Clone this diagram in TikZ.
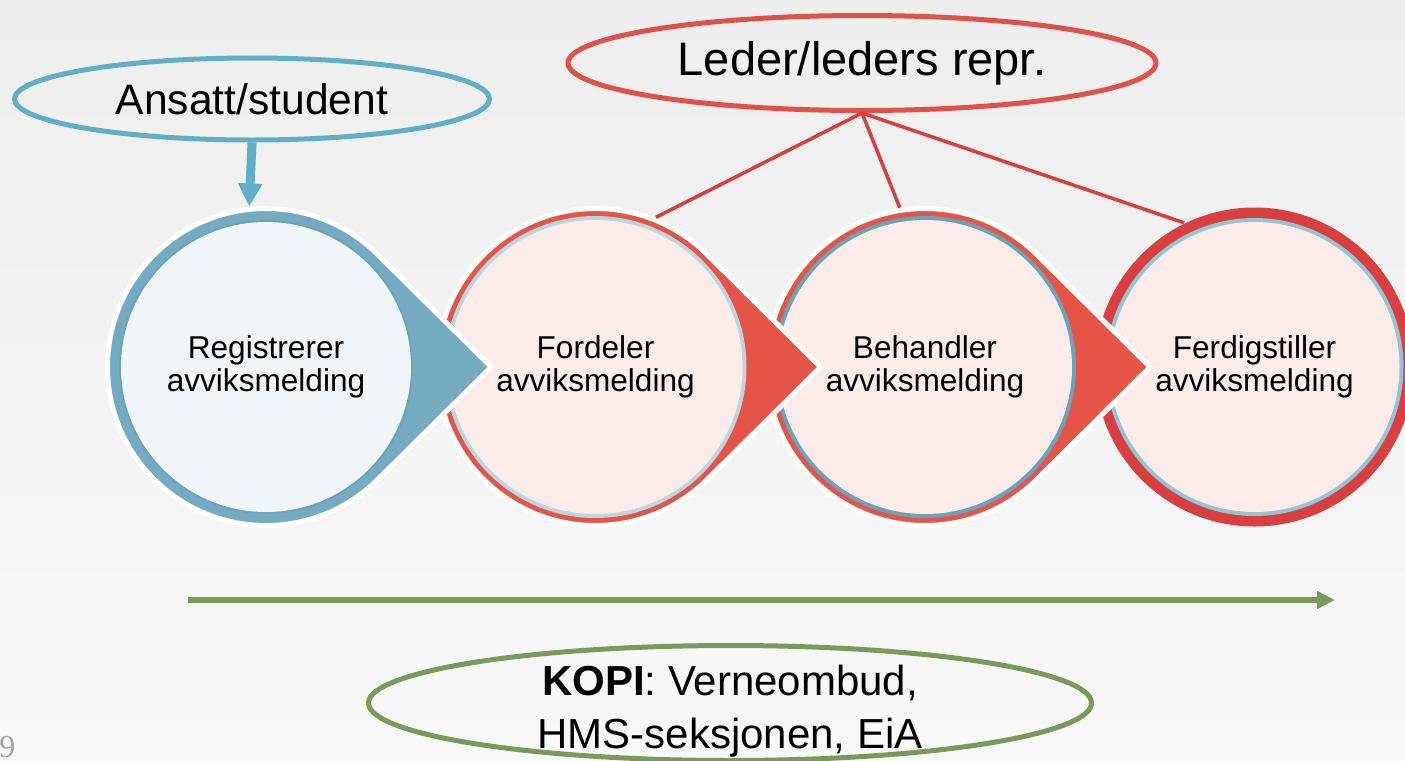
\documentclass[tikz,border=0pt]{standalone}
\usepackage{fontspec}
\setmainfont{Liberation Sans}
\newfontfamily\pagefont{Liberation Serif}
\usetikzlibrary{positioning}
\usetikzlibrary{shapes.geometric}
\usetikzlibrary{backgrounds}
\usetikzlibrary{arrows.meta}
\definecolor{actorblue}{RGB}{96,174,200}
\definecolor{leadred}{RGB}{226,80,74}
\definecolor{linkred}{RGB}{218,62,60}
\definecolor{dropblue}{RGB}{116,171,193}
\definecolor{dropred}{RGB}{229,84,70}
\definecolor{endred}{RGB}{217,63,64}
\definecolor{paleblue}{RGB}{239,245,248}
\definecolor{palered}{RGB}{251,236,234}
\definecolor{ringblue}{RGB}{106,164,188}
\definecolor{ringlight}{RGB}{188,213,222}
\definecolor{ringsky}{RGB}{146,198,212}
\definecolor{flowgreen}{RGB}{122,154,90}
\definecolor{pagegray}{RGB}{166,166,166}
\newcommand \teardrop [2] {(#1.center) ++(45:#2) arc [start angle=45, end angle=315, radius=#2] -- ([xshift=1.42*#2]#1.center) -- cycle}
\tikzset{
	stage/.style={
		circle,
		minimum size=#1,
		inner sep=0pt,
		align=center,
		font=\fontsize{15.8}{16.5}\selectfont
	},
	stage/.default=161pt,
	actor/.style={
		ellipse,
		draw=#1,
		line width=2.5pt,
		inner xsep=0pt,
		inner ysep=0pt,
		align=center
	},
	drop/.style={
		fill=#1,
		draw=white,
		line width=2.5pt,
		line join=miter
	},
	tobox/.style={draw=actorblue, line width=4.5pt, -{Triangle[length=11.5pt,width=11.5pt]}},
	link/.style={draw=linkred, line width=1.75pt},
	flow/.style={draw=flowgreen, line width=3pt, -{Triangle[length=9pt,width=8.5pt]}},
	pagenum/.style={anchor=base west, inner sep=0pt, text=pagegray, font=\pagefont\fontsize{16}{19}\selectfont}
}
\begin{document}
\begin{tikzpicture} [x=0.5pt, y=-0.5pt, node distance=164.75pt, on grid]
	\useasboundingbox (0,0) rectangle (1405,761);

	\node [stage] (reg) at (266,367) {Registrerer\\avviksmelding};
	\node [stage] (ford) [right=of reg] {Fordeler\\avviksmelding};
	\node [stage] (beh) [right=of ford] {Behandler\\avviksmelding};
	\node [stage=160pt] (ferd) [right=of beh] {Ferdigstiller\\avviksmelding};

	\node [actor=actorblue, minimum width=237.5pt, minimum height=41pt, font=\fontsize{21.3}{25}\selectfont] (ansatt) at (252,99) {Ansatt/student};
	\node [actor=leadred, minimum width=294pt, minimum height=47.5pt, font=\fontsize{23.5}{28}\selectfont] (leder) at (862,63) {Leder/leders repr.};
	\node [actor=flowgreen, inner ysep=-8pt, text height=50pt, text depth=4.4pt, minimum width=361.5pt, minimum height=57.5pt, font=\fontsize{21}{26.5}\selectfont] (kopi) at (730,703) {\textbf{KOPI}: Verneombud,\\HMS-seksjonen, EiA};

	\coordinate (flowstart) at (188,600);
	\coordinate (flowend) at (1335,600);
	\node [pagenum] (pagenr) at (-1,757) {9};

	\draw [tobox] (ansatt.south) -- (reg.96);
	\draw [link] (leder.south) -- (ford.68);
	\draw [link] (leder.south) -- (beh.99);
	\draw [link] (leder.south) -- (ferd.116);
	\draw [flow] (flowstart) -- (flowend);

	\begin{scope} [on background layer]
		\shade [top color={rgb,255:red,238;green,238;blue,238}, bottom color={rgb,255:red,248;green,248;blue,248}] (0,0) rectangle (1405,761);

		\fill [endred] (ferd.center) circle [radius=79.75pt];
		\fill [ringsky] (ferd.center) circle [radius=74.5pt];
		\fill [palered] (ferd.center) circle [radius=72.5pt];

		\filldraw [drop=dropred] \teardrop{beh}{79.25pt};
		\fill [ringblue] (beh.center) circle [radius=75.5pt];
		\fill [palered] (beh.center) circle [radius=73.5pt];

		\filldraw [drop=dropred] \teardrop{ford}{79.25pt};
		\fill [ringlight] (ford.center) circle [radius=75.5pt];
		\fill [palered] (ford.center) circle [radius=73.5pt];

		\filldraw [drop=dropblue] \teardrop{reg}{79.25pt};
		\fill [ringblue] (reg.center) circle [radius=73.5pt];
		\fill [paleblue] (reg.center) circle [radius=72.5pt];
	\end{scope}
\end{tikzpicture}
\end{document}
